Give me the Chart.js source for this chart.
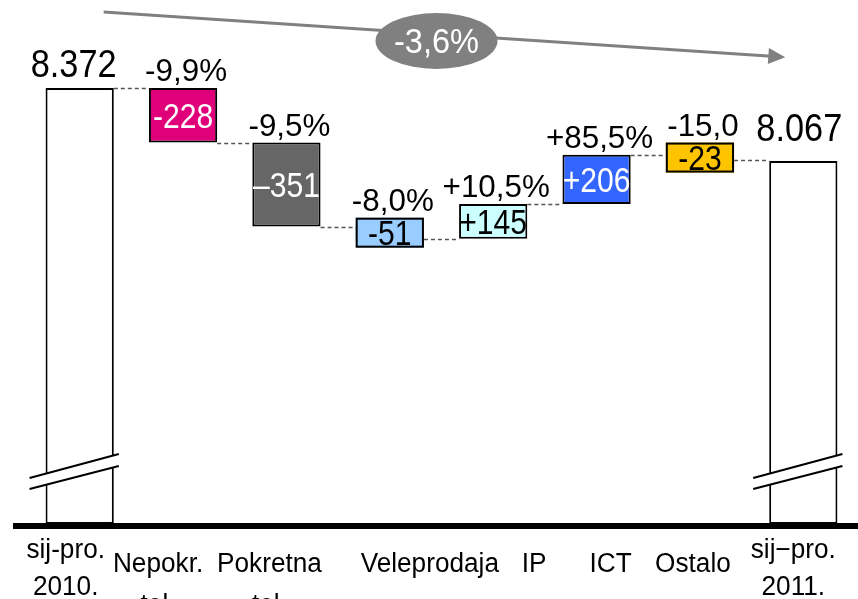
<!DOCTYPE html>
<html>
<head>
<meta charset="utf-8">
<script src="https://cdn.jsdelivr.net/npm/chart.js@4"></script>
<style>
  html, body { margin: 0; padding: 0; background: #fff; }
  canvas { display: block; }
</style>
</head>
<body>
<canvas id="waterfall" width="858" height="599"></canvas>
<script>
// categories and values
const categories = [['sij-pro.', '2010.'], ['Nepokr.', 'tel.'], ['Pokretna', 'tel.'], ['Veleprodaja'], ['IP'], ['ICT'], ['Ostalo'], ['sij\u2212pro.', '2011.']];
const startTotal = 8372;
const endTotal = 8067;
const changes = [-228, -351, -51, 145, 206, -23];
const changeLabels = ['-228', '\u2013351', '-51', '+145', '+206', '-23'];
const pctLabels = ['-9,9%', '-9,5%', '-8,0%', '+10,5%', '+85,5%', '-15,0'];
const totalLabels = ['8.372', '8.067'];
const overallLabel = '-3,6%';
const changeColors = ['#e0007a', '#666666', '#99ccff', '#ccffff', '#3366ff', '#ffc400'];
const changeTextColors = ['#fff', '#fff', '#000', '#000', '#fff', '#000'];

const yMin = 6550;
const yMax = 8740;

// build floating bars
const bars = [[yMin, startTotal]];
let level = startTotal;
changes.forEach((c) => {
    bars.push([level, level + c]);
    level += c;
});
bars.push([yMin, endTotal]);

const FONT = '"Liberation Sans", Arial, sans-serif';

function drawText(ctx, s, x, y, size, color, sx) {
    ctx.save();
    ctx.font = size + 'px ' + FONT;
    ctx.fillStyle = color;
    ctx.textAlign = 'center';
    ctx.textBaseline = 'alphabetic';
    ctx.translate(x, y);
    ctx.scale(sx, 1);
    ctx.fillText(s, 0, 0);
    ctx.restore();
}

// little horizontal nudges so the labels sit like in the slide
const labelNudge = [-14, -25, -17, 40, 41, 14, -7, -10];
const BADGE_H = 30;

const decorations = {
    id: 'decorations',
    afterDatasetsDraw(chart) {
        const ctx = chart.ctx;
        const area = chart.chartArea;
        const ys = chart.scales.y;
        const xs = chart.scales.x;
        const els = chart.getDatasetMeta(0).data;
        const last = els.length - 1;

        // connectors
        ctx.save();
        ctx.strokeStyle = '#555';
        ctx.lineWidth = 1.3;
        ctx.setLineDash([4, 3]);
        for (let i = 0; i < last; i++) {
            const y = Math.round(ys.getPixelForValue(bars[i][1])) + 0.5;
            ctx.beginPath();
            ctx.moveTo(els[i].x + els[i].width / 2, y);
            ctx.lineTo(els[i + 1].x - els[i + 1].width / 2, y);
            ctx.stroke();
        }
        ctx.restore();

        // axis break marks on the two totals
        [0, last].forEach((i) => {
            const el = els[i];
            const l = el.x - el.width / 2 - 16;
            const r = el.x + el.width / 2 + 5;
            const b = area.bottom;
            ctx.save();
            ctx.fillStyle = '#fff';
            ctx.beginPath();
            ctx.moveTo(l, b - 46);
            ctx.lineTo(r, b - 70);
            ctx.lineTo(r, b - 58);
            ctx.lineTo(l, b - 35);
            ctx.closePath();
            ctx.fill();
            ctx.strokeStyle = '#000';
            ctx.lineWidth = 2;
            ctx.beginPath();
            ctx.moveTo(l, b - 46);
            ctx.lineTo(r, b - 70);
            ctx.moveTo(l, b - 35);
            ctx.lineTo(r, b - 58);
            ctx.stroke();
            ctx.restore();
        });

        // baseline
        ctx.fillStyle = '#000';
        ctx.fillRect(13, area.bottom - 1, chart.width - 13, 6);

        // totals
        drawText(ctx, totalLabels[0], els[0].x - 6, ys.getPixelForValue(startTotal) - 11, 39, '#000', 0.88);
        drawText(ctx, totalLabels[1], els[last].x - 4, ys.getPixelForValue(endTotal) - 20, 39, '#000', 0.88);

        // changes: value label inside the bar (on a badge when the bar is too thin), percentage above
        changes.forEach((c, k) => {
            const i = k + 1;
            const el = els[i];
            let top = ys.getPixelForValue(Math.max(bars[i][0], bars[i][1]));
            let bot = ys.getPixelForValue(Math.min(bars[i][0], bars[i][1]));
            if (bot - top < BADGE_H) {
                const mid = (top + bot) / 2;
                top = mid - BADGE_H / 2;
                bot = mid + BADGE_H / 2;
                ctx.save();
                ctx.fillStyle = changeColors[k];
                ctx.strokeStyle = '#000';
                ctx.lineWidth = 2;
                ctx.fillRect(el.x - el.width / 2, top, el.width, BADGE_H);
                ctx.strokeRect(el.x - el.width / 2 + 1, top + 1, el.width - 2, BADGE_H - 2);
                ctx.restore();
            }
            drawText(ctx, pctLabels[k], el.x + 3, top - 7, 32, '#000', 0.98);
            drawText(ctx, changeLabels[k], el.x, (top + bot) / 2 + 12.5, 35, changeTextColors[k], 0.86);
        });

        // category labels
        categories.forEach((lab, i) => {
            const x = xs.getPixelForValue(i) + labelNudge[i];
            const isTotal = (i === 0 || i === last);
            const y1 = area.bottom + (isTotal ? 34 : 48);
            const gap = isTotal ? 37 : 41;
            lab.forEach((line, j) => drawText(ctx, line, x, y1 + j * gap, 27, '#000', 0.97));
        });

        // overall trend arrow
        const x0 = els[0].x + 24, y0 = 12;
        const x1 = els[last].x - 20, y1 = 57;
        ctx.save();
        ctx.strokeStyle = '#808080';
        ctx.fillStyle = '#808080';
        ctx.lineWidth = 3;
        const ang = Math.atan2(y1 - y0, x1 - x0);
        ctx.beginPath();
        ctx.moveTo(x0, y0);
        ctx.lineTo(x1 - 12 * Math.cos(ang), y1 - 12 * Math.sin(ang));
        ctx.stroke();
        ctx.translate(x1, y1);
        ctx.rotate(ang);
        ctx.beginPath();
        ctx.moveTo(2, 0);
        ctx.lineTo(-15, -8);
        ctx.lineTo(-15, 8);
        ctx.closePath();
        ctx.fill();
        ctx.restore();

        const cx = (els[0].x + els[last].x) / 2 - 5;
        ctx.save();
        ctx.fillStyle = '#808080';
        ctx.beginPath();
        ctx.ellipse(cx, 41, 61, 28, 0, 0, Math.PI * 2);
        ctx.fill();
        ctx.restore();
        drawText(ctx, overallLabel, cx, 53, 35, '#fff', 0.93);
    }
};

const ctx = document.getElementById('waterfall').getContext('2d');
new Chart(ctx, {
    type: 'bar',
    data: {
        labels: categories,
        datasets: [{
            data: bars,
            backgroundColor: ['#fff'].concat(changeColors, ['#fff']),
            borderColor: '#000',
            borderWidth: 2,
            borderSkipped: false,
            barPercentage: 0.66,
            categoryPercentage: 1
        }]
    },
    options: {
        responsive: false,
        animation: false,
        layout: { padding: { left: 28, right: 3, top: 0, bottom: 75 } },
        scales: {
            x: { display: false },
            y: { display: false, min: yMin, max: yMax }
        },
        plugins: {
            legend: { display: false },
            tooltip: { enabled: false }
        }
    },
    plugins: [decorations]
});
</script>
</body>
</html>
